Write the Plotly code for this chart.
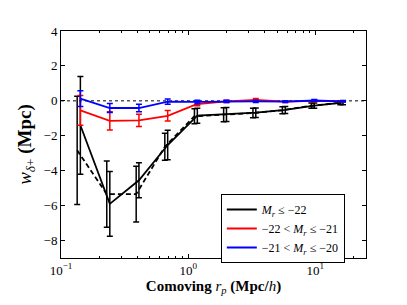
import plotly.graph_objects as go

# Data
r_solid = [0.142, 0.242, 0.41, 0.69, 1.18, 2.0, 3.4, 5.8, 9.8, 16.5]
r_dash = [0.134, 0.229, 0.39, 0.655, 1.12, 1.9, 3.23, 5.5, 9.3, 15.7]

w_bright = [-1.4, -5.9, -4.55, -2.53, -0.85, -0.78, -0.68, -0.52, -0.27, -0.1]
e_bright = [2.8, 1.85, 1.0, 0.85, 0.43, 0.4, 0.27, 0.2, 0.15, 0.12]

w_bright_dash = [-2.83, -5.34, -5.34, -2.63, -0.88, -0.8, -0.7, -0.54, -0.28, -0.11]
e_bright_dash = [3.1, 1.9, 1.6, 0.77, 0.43, 0.4, 0.27, 0.2, 0.15, 0.12]

w_mid = [-0.55, -1.15, -1.12, -0.86, -0.18, -0.03, 0.06, -0.04, 0.0, -0.03]
e_mid = [0.85, 0.52, 0.35, 0.3, 0.1, 0.07, 0.07, 0.05, 0.05, 0.04]

w_faint = [0.13, -0.41, -0.41, -0.04, -0.06, -0.03, -0.03, -0.04, 0.02, -0.03]
e_faint = [0.45, 0.26, 0.22, 0.15, 0.1, 0.07, 0.06, 0.05, 0.05, 0.04]

labels = [
    "<i>M<sub>r</sub></i> ≤ −22",
    "−22 < <i>M<sub>r</sub></i> ≤ −21",
    "−21 < <i>M<sub>r</sub></i> ≤ −20",
]

x_tickvals = [0.1, 1, 10]
x_ticktext = ["10<sup>−1</sup>", "10<sup>0</sup>", "10<sup>1</sup>"]
x_minor = [0.2, 0.3, 0.4, 0.5, 0.6, 0.7, 0.8, 0.9,
           2, 3, 4, 5, 6, 7, 8, 9, 20]

FONT = "Liberation Serif"

fig = go.Figure()

def err(e, c):
    return dict(type="data", array=e, visible=True, thickness=1.5, width=3, color=c)

fig.add_trace(go.Scatter(
    x=r_dash, y=w_bright_dash, mode="lines", showlegend=False,
    line=dict(color="black", width=1.8, dash="5px,3px"),
    error_y=err(e_bright_dash, "black"),
))
fig.add_trace(go.Scatter(
    x=r_solid, y=w_bright, mode="lines", name=labels[0],
    line=dict(color="black", width=1.8),
    error_y=err(e_bright, "black"),
))
fig.add_trace(go.Scatter(
    x=r_solid, y=w_mid, mode="lines", name=labels[1],
    line=dict(color="#ff0000", width=1.8),
    error_y=err(e_mid, "#ff0000"),
))
fig.add_trace(go.Scatter(
    x=r_solid, y=w_faint, mode="lines", name=labels[2],
    line=dict(color="#0000ff", width=1.8),
    error_y=err(e_faint, "#0000ff"),
))
# invisible carrier trace for the top minor-tick axis
fig.add_trace(go.Scatter(
    x=[x_tickvals[0]], y=[None], xaxis="x2", mode="lines",
    showlegend=False, hoverinfo="skip",
))

fig.add_hline(y=0, line=dict(color="black", width=1, dash="dot"), layer="below")

fig.update_layout(
    width=407, height=305,
    margin=dict(l=61, r=41, t=31, b=47, autoexpand=False),
    plot_bgcolor="white", paper_bgcolor="white",
    font=dict(family=FONT, size=12, color="black"),
    legend=dict(
        x=0.524, y=0.282, xanchor="left", yanchor="top",
        bgcolor="white", bordercolor="black", borderwidth=1,
        font=dict(size=12), tracegroupgap=0,
    ),
    xaxis2=dict(
        type="log", range=[-1, 1.398], overlaying="x", side="top",
        tickvals=x_minor, ticks="inside", ticklen=2, tickcolor="black",
        showticklabels=False, showgrid=False, zeroline=False, showline=False,
    ),
)
fig.update_xaxes(
    selector=dict(anchor="y"),
)
fig.update_layout(xaxis=dict(
    type="log", range=[-1, 1.398],
    showline=True, linecolor="black", linewidth=1, mirror="ticks",
    ticks="inside", ticklen=4, tickcolor="black",
    tickvals=x_tickvals, ticktext=x_ticktext, showgrid=False, zeroline=False,
    minor=dict(ticks="inside", ticklen=2, tickcolor="black", tickvals=x_minor, showgrid=False),
    title=dict(text="<b>Comoving </b><i>r</i><sub><i>p</i></sub><b> (Mpc/</b><i>h</i><b>)</b>",
               font=dict(size=15), standoff=2),
    tickfont=dict(size=13),
))
fig.update_yaxes(
    range=[-9, 4], dtick=2,
    showline=True, linecolor="black", linewidth=1, mirror="ticks",
    ticks="inside", ticklen=4, tickcolor="black",
    showgrid=False, zeroline=False,
    title=dict(text="<i>w</i><sub><i>δ</i>+</sub> <b>(Mpc)</b>", font=dict(size=19), standoff=6),
    tickfont=dict(size=13),
)

fig.write_html("out.html", config={"displayModeBar": False},
               post_script="document.body.style.margin='0';")
